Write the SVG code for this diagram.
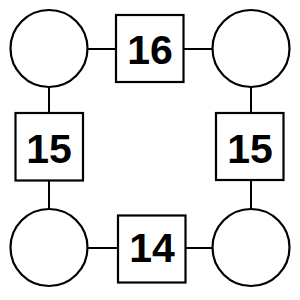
<svg xmlns="http://www.w3.org/2000/svg" width="300" height="300" viewBox="0 0 300 300">
<style>
.c{fill:#fff;stroke:#000;stroke-width:2.2}
.b{fill:#fff;stroke:#000;stroke-width:2.2}
.e{stroke:#000;stroke-width:2;fill:none}
.t{font-family:"Liberation Sans",Arial,sans-serif;font-weight:bold;font-size:41px;text-anchor:middle;fill:#000}
</style>
<rect width="300" height="300" fill="#fff"/>
<g id="connectors">
<line class="e" x1="88" y1="49" x2="116" y2="49"/>
<line class="e" x1="184" y1="49" x2="213" y2="49"/>
<line class="e" x1="49" y1="87" x2="49" y2="113"/>
<line class="e" x1="251" y1="87" x2="251" y2="113"/>
<line class="e" x1="49" y1="180" x2="49" y2="209"/>
<line class="e" x1="251" y1="180" x2="251" y2="209"/>
<line class="e" x1="88" y1="248" x2="118" y2="248"/>
<line class="e" x1="186" y1="248" x2="213" y2="248"/>
</g>
<g id="c_tl"><circle class="c" cx="49" cy="48.5" r="38.5"/></g>
<g id="c_tr"><circle class="c" cx="251" cy="48.5" r="38.5"/></g>
<g id="c_bl"><circle class="c" cx="49" cy="247.5" r="38.5"/></g>
<g id="c_br"><circle class="c" cx="251" cy="247.5" r="38.5"/></g>
<g id="s_top"><rect class="b" x="116" y="15" width="67.5" height="67"/><text class="t" x="150" y="63.5">16</text></g>
<g id="s_left"><rect class="b" x="15.5" y="113" width="67.5" height="67.5"/><text class="t" x="49" y="162.5">15</text></g>
<g id="s_right"><rect class="b" x="216" y="113" width="67.5" height="67"/><text class="t" x="250" y="162.5">15</text></g>
<g id="s_bottom"><rect class="b" x="118" y="215.5" width="67.5" height="67"/><text class="t" x="152" y="262">14</text></g>
</svg>
